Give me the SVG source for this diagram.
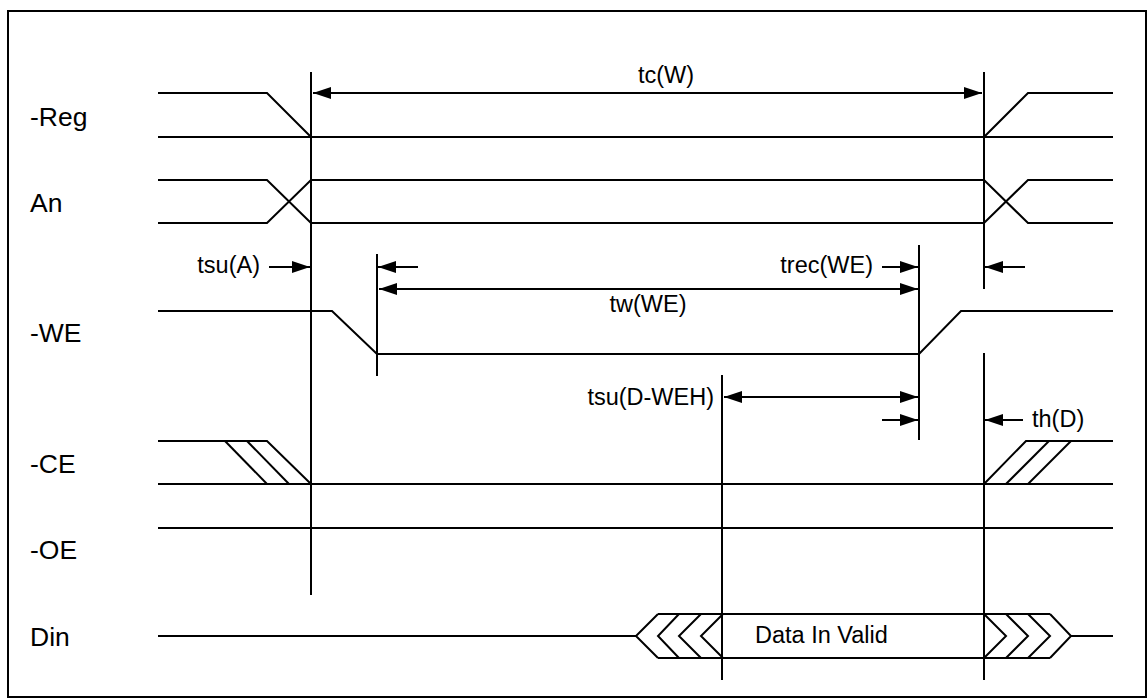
<svg xmlns="http://www.w3.org/2000/svg" width="1148" height="698" viewBox="0 0 1148 698">
<style>
.s{fill:none;stroke:#000;stroke-width:2;stroke-linejoin:miter}
.v{fill:none;stroke:#000;stroke-width:2}
.a{fill:none;stroke:#000;stroke-width:2}
.lbl{font-family:"Liberation Sans",Arial,sans-serif;font-size:26.5px;fill:#000}
.t{font-family:"Liberation Sans",Arial,sans-serif;font-size:23.5px;fill:#000}
</style>
<defs>
<marker id="ah" markerUnits="userSpaceOnUse" markerWidth="18" markerHeight="12" refX="18" refY="6" orient="auto-start-reverse" viewBox="0 0 18 12">
<path d="M0,0 L18,6 L0,12 z" fill="#000"/>
</marker>
</defs>
<rect x="8" y="11" width="1138" height="686" fill="#fff" stroke="#000" stroke-width="2"/>
<g id="reg">
<text class="lbl" x="30" y="126">-Reg</text>
<polyline class="s" points="158,93 267,93 311,137"/>
<line class="s" x1="158" y1="137" x2="1113" y2="137"/>
<polyline class="s" points="984,137 1028,93 1113,93"/>
</g>
<g id="an">
<text class="lbl" x="30" y="212">An</text>
<polyline class="s" points="158,180 267,180 311,223 984,223 1028,180 1113,180"/>
<polyline class="s" points="158,223 267,223 311,180 984,180 1028,223 1113,223"/>
</g>
<g id="we">
<text class="lbl" x="30" y="342">-WE</text>
<polyline class="s" points="158,311 332,311 377,354 919,354 961,311 1113,311"/>
</g>
<g id="ce">
<text class="lbl" x="30" y="473">-CE</text>
<polyline class="s" points="158,441 267,441 311,484"/>
<line class="s" x1="225" y1="441" x2="267" y2="484"/>
<line class="s" x1="247" y1="441" x2="289" y2="484"/>
<line class="s" x1="158" y1="484" x2="1113" y2="484"/>
<polyline class="s" points="984,484 1026,441 1113,441"/>
<line class="s" x1="1006" y1="484" x2="1049" y2="441"/>
<line class="s" x1="1028" y1="484" x2="1071" y2="441"/>
</g>
<g id="oe">
<text class="lbl" x="30" y="559">-OE</text>
<line class="s" x1="158" y1="528" x2="1113" y2="528"/>
</g>
<g id="din">
<text class="lbl" x="30" y="646">Din</text>
<line class="s" x1="158" y1="636" x2="636" y2="636"/>
<line class="s" x1="1071" y1="636" x2="1113" y2="636"/>
<line class="s" x1="658" y1="614" x2="1050" y2="614"/>
<line class="s" x1="658" y1="658" x2="1050" y2="658"/>
<polyline class="s" points="658,614 636,636 658,658"/>
<polyline class="s" points="679,614 658,636 679,658"/>
<polyline class="s" points="701,614 679,636 701,658"/>
<polyline class="s" points="723,614 701,636 723,658"/>
<polyline class="s" points="984,614 1006,636 984,658"/>
<polyline class="s" points="1006,614 1028,636 1006,658"/>
<polyline class="s" points="1028,614 1050,636 1028,658"/>
<polyline class="s" points="1050,614 1071,636 1050,658"/>
<text class="t" x="755" y="643">Data In Valid</text>
</g>
<g id="refs">
<line class="v" x1="311" y1="72" x2="311" y2="595"/>
<line class="v" x1="984" y1="72" x2="984" y2="289"/>
<line class="v" x1="984" y1="353" x2="984" y2="680"/>
<line class="v" x1="377" y1="254" x2="377" y2="376"/>
<line class="v" x1="919" y1="245" x2="919" y2="440"/>
<line class="v" x1="722" y1="375" x2="722" y2="680"/>
</g>
<g id="connectors">
<line class="a" x1="313" y1="93" x2="982" y2="93" marker-start="url(#ah)" marker-end="url(#ah)"/>
<line class="a" x1="269" y1="267" x2="310" y2="267" marker-end="url(#ah)"/>
<line class="a" x1="418" y1="267" x2="378" y2="267" marker-end="url(#ah)"/>
<line class="a" x1="379" y1="289" x2="918" y2="289" marker-start="url(#ah)" marker-end="url(#ah)"/>
<line class="a" x1="882" y1="267" x2="918" y2="267" marker-end="url(#ah)"/>
<line class="a" x1="1025" y1="267" x2="985" y2="267" marker-end="url(#ah)"/>
<line class="a" x1="724" y1="397" x2="918" y2="397" marker-start="url(#ah)" marker-end="url(#ah)"/>
<line class="a" x1="882" y1="420" x2="918" y2="420" marker-end="url(#ah)"/>
<line class="a" x1="1023" y1="420" x2="985" y2="420" marker-end="url(#ah)"/>
</g>
<g id="labels">
<text class="t" x="638" y="83">tc(W)</text>
<text class="t" x="260" y="273" text-anchor="end">tsu(A)</text>
<text class="t" x="873" y="273" text-anchor="end">trec(WE)</text>
<text class="t" x="648" y="312" text-anchor="middle">tw(WE)</text>
<text class="t" x="714" y="405" text-anchor="end">tsu(D-WEH)</text>
<text class="t" x="1032" y="427">th(D)</text>
</g>
</svg>
